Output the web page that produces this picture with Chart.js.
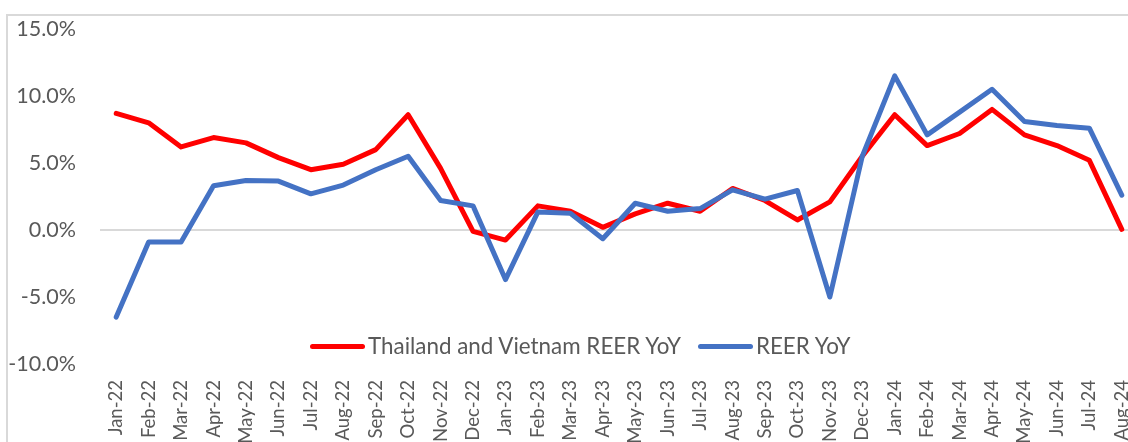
<!DOCTYPE html>
<html><head><meta charset="utf-8">
<script src="https://cdn.jsdelivr.net/npm/chart.js@4.4.1/dist/chart.umd.min.js"></script>
<style>
html,body{margin:0;padding:0;width:1128px;height:442px;overflow:hidden;background:#fff;}
#frame{position:absolute;left:6px;top:14px;width:1160px;height:470px;border:2px solid #d9d9d9;box-sizing:border-box;}
#wrap{position:absolute;left:0;top:0;width:1150px;height:470px;}
#legend{position:absolute;left:310px;top:333px;display:flex;align-items:center;font-family:Lato;font-size:22.4px;color:#595959;white-space:nowrap;line-height:26px;}
.item{display:flex;align-items:center;margin-right:17px;}
.swatch{width:55px;height:5px;border-radius:3px;margin-right:3px;}
</style>
</head>
<body>
<div id="frame"></div>
<div id="wrap"><canvas id="c"></canvas></div>
<div id="legend"></div>
<script>
const categories = ["Jan-22","Feb-22","Mar-22","Apr-22","May-22","Jun-22","Jul-22","Aug-22","Sep-22","Oct-22","Nov-22","Dec-22",
  "Jan-23","Feb-23","Mar-23","Apr-23","May-23","Jun-23","Jul-23","Aug-23","Sep-23","Oct-23","Nov-23","Dec-23",
  "Jan-24","Feb-24","Mar-24","Apr-24","May-24","Jun-24","Jul-24","Aug-24"];
const thaiVietReerYoY = [8.7, 8.0, 6.2, 6.9, 6.5, 5.4, 4.5, 4.9, 6.0, 8.6, 4.6, -0.1,
  -0.75, 1.8, 1.4, 0.2, 1.2, 2.0, 1.4, 3.1, 2.2, 0.75, 2.1, 5.5,
  8.6, 6.3, 7.2, 9.0, 7.1, 6.3, 5.2, 0.05];
const reerYoY = [-6.5, -0.9, -0.9, 3.3, 3.7, 3.65, 2.7, 3.35, 4.5, 5.5, 2.2, 1.8,
  -3.7, 1.35, 1.25, -0.65, 2.0, 1.4, 1.6, 3.0, 2.3, 2.95, -5.0, 5.5,
  11.5, 7.1, 8.8, 10.5, 8.1, 7.8, 7.6, 2.6];
const seriesNames = ["Thailand and Vietnam REER YoY", "REER YoY"];
const seriesColors = ["#FF0000", "#4472C4"];
const yTicks = [-10, -5, 0, 5, 10, 15];

Chart.defaults.font.family = "Lato";
Chart.defaults.color = "#595959";

const chart = new Chart(document.getElementById('c'), {
  type: 'line',
  data: {
    labels: categories,
    datasets: [
      {label: seriesNames[0], data: thaiVietReerYoY, borderColor: seriesColors[0], backgroundColor: seriesColors[0], order: 2},
      {label: seriesNames[1], data: reerYoY, borderColor: seriesColors[1], backgroundColor: seriesColors[1], order: 1}
    ]
  },
  options: {
    responsive: true,
    maintainAspectRatio: false,
    animation: false,
    layout: {padding: {left: 0, top: 29, right: 12, bottom: 6}},
    elements: {
      line: {borderWidth: 5, tension: 0, borderCapStyle: 'round', borderJoinStyle: 'round'},
      point: {radius: 0, hoverRadius: 0}
    },
    plugins: {legend: {display: false}, tooltip: {enabled: false}},
    scales: {
      x: {
        offset: true,
        grid: {display: false, drawTicks: false},
        border: {display: false},
        ticks: {autoSkip: false, maxRotation: 90, minRotation: 90, padding: 16, font: {size: 18.5}, color: '#595959'},
        afterFit: s => { s.height = 100; s.paddingLeft = 0; s.paddingRight = 0; }
      },
      y: {
        min: -10, max: 15,
        afterBuildTicks: s => { s.ticks = yTicks.map(v => ({value: v})); },
        grid: {drawTicks: false, lineWidth: 2, color: c => (c.tick && c.tick.value === 0) ? '#d9d9d9' : 'rgba(0,0,0,0)'},
        border: {display: false},
        ticks: {padding: 24, font: {size: 21.5}, color: '#595959', callback: v => v.toFixed(1) + '%'},
        afterFit: s => { s.width = 100; s.paddingTop = 0; s.paddingBottom = 0; }
      }
    }
  }
});

const lg = document.getElementById('legend');
seriesNames.forEach((n, i) => {
  const it = document.createElement('div'); it.className = 'item';
  const sw = document.createElement('span'); sw.className = 'swatch'; sw.style.background = seriesColors[i];
  const tx = document.createElement('span'); tx.textContent = n;
  it.appendChild(sw); it.appendChild(tx); lg.appendChild(it);
});
</script>
</body></html>
